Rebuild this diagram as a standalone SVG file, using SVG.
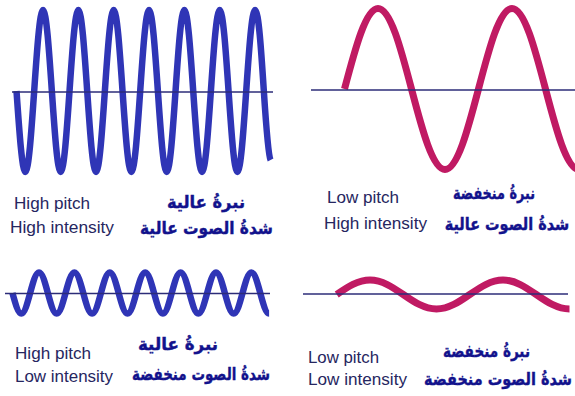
<svg xmlns="http://www.w3.org/2000/svg" width="575" height="396" viewBox="0 0 575 396">
<style>
.blue{fill:none;stroke:#2f35b6;stroke-width:6.5;stroke-linejoin:round}
.pink{fill:none;stroke:#c01a63;stroke-width:7;stroke-linejoin:round}
.axis{stroke:#2c2c78;stroke-width:1.5}
.en{font-family:"Liberation Sans",Arial,sans-serif;font-size:16px;fill:#262660}
.ar{font-family:"DejaVu Sans","Noto Sans",sans-serif;font-size:17px;font-weight:bold;fill:#12128c;text-anchor:middle;stroke:#12128c;stroke-width:0.4}
</style>
<rect width="575" height="396" fill="#ffffff"/>
<g id="panel-high-high">
<path class="blue" d="M16.5,91 C19.38,132.5 22.13,172 25.35,172 c6.54,0 11.13,-162 17.67,-162 s11.13,162 17.67,162 s11.13,-162 17.67,-162 s11.13,162 17.67,162 s11.13,-162 17.67,-162 s11.13,162 17.67,162 s11.13,-162 17.67,-162 s11.13,162 17.67,162 s11.13,-162 17.67,-162 s11.13,162 17.67,162 s11.13,-162 17.67,-162 s11.13,162 17.67,162 s11.13,-162 17.67,-162 s10,140 15.5,150"/>
<line class="axis" x1="12" y1="92" x2="273" y2="92"/>
<text class="en" x="14" y="209" textLength="76" lengthAdjust="spacingAndGlyphs">High pitch</text>
<text class="en" x="10" y="233" textLength="104" lengthAdjust="spacingAndGlyphs">High intensity</text>
<text class="ar" x="206" y="208" textLength="78" lengthAdjust="spacingAndGlyphs">نبرةُ عالية</text>
<text class="ar" x="206.5" y="234" textLength="133" lengthAdjust="spacingAndGlyphs">شدةُ الصوت عالية</text>
</g>
<g id="panel-low-high">
<path class="pink" d="M344.5,89 C355.42,47.76 365.88,8.5 378,8.5 c24.79,0 42.21,161 67,161 s42.21,-161 67,-161 s42.21,161 67,161"/>
<line class="axis" x1="311" y1="90" x2="575" y2="90"/>
<text class="en" x="327" y="203" textLength="72" lengthAdjust="spacingAndGlyphs">Low pitch</text>
<text class="en" x="324" y="229" textLength="103" lengthAdjust="spacingAndGlyphs">High intensity</text>
<text class="ar" x="494" y="199" textLength="82" lengthAdjust="spacingAndGlyphs">نبرةُ منخفضة</text>
<text class="ar" transform="translate(507,230) scale(0.85,1)" x="0" y="0">شدةُ الصوت عالية</text>
</g>
<g id="panel-high-low">
<path class="blue" d="M12.45,293 C15.34,303.5 18.1,313.5 21.3,313.5 c6.55,0 11.15,-41 17.7,-41 s11.15,41 17.7,41 s11.15,-41 17.7,-41 s11.15,41 17.7,41 s11.15,-41 17.7,-41 s11.15,41 17.7,41 s11.15,-41 17.7,-41 s11.15,41 17.7,41 s11.15,-41 17.7,-41 s11.15,41 17.7,41 s11.15,-41 17.7,-41 s11.15,41 17.7,41 s11.15,-41 17.7,-41 s11.15,41 17.7,41"/>
<line class="axis" x1="5" y1="293.5" x2="270" y2="293.5"/>
<text class="en" x="15" y="359" textLength="76" lengthAdjust="spacingAndGlyphs">High pitch</text>
<text class="en" x="15" y="382" textLength="98" lengthAdjust="spacingAndGlyphs">Low intensity</text>
<text class="ar" x="178" y="350" textLength="80" lengthAdjust="spacingAndGlyphs">نبرةُ عالية</text>
<text class="ar" x="201" y="380" textLength="138" lengthAdjust="spacingAndGlyphs">شدةُ الصوت منخفضة</text>
</g>
<g id="panel-low-low">
<path class="pink" d="M336.75,294.5 C347.59,287.07 357.97,280 370,280 c24.6,0 41.9,29 66.5,29 s41.9,-29 66.5,-29 s41.9,29 66.5,29"/>
<line class="axis" x1="303" y1="294" x2="568" y2="294"/>
<text class="en" x="308" y="363" textLength="71" lengthAdjust="spacingAndGlyphs">Low pitch</text>
<text class="en" x="308" y="385" textLength="99" lengthAdjust="spacingAndGlyphs">Low intensity</text>
<text class="ar" x="486.5" y="357" textLength="87" lengthAdjust="spacingAndGlyphs">نبرةُ منخفضة</text>
<text class="ar" transform="translate(498,385) scale(0.85,1)" x="0" y="0">شدةُ الصوت منخفضة</text>
</g>
</svg>
